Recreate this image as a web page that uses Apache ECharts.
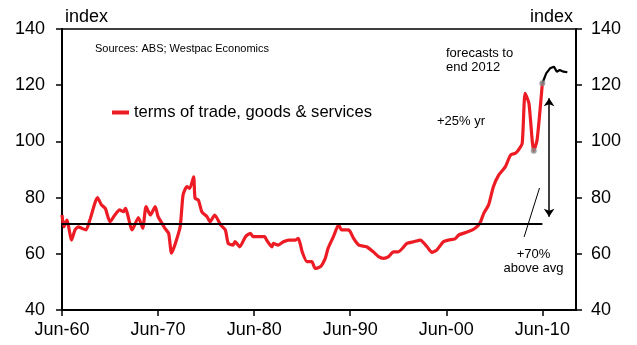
<!DOCTYPE html>
<html>
<head>
<meta charset="utf-8">
<script src="https://cdn.jsdelivr.net/npm/echarts@6/dist/echarts.min.js"></script>
<style>
  html, body { margin: 0; padding: 0; background: #fff; }
  #chart { width: 637px; height: 345px; }
</style>
</head>
<body>
<div id="chart"></div>
<script>
// terms of trade, goods & services (index)
const histYear = [
  1960.5, 1960.7, 1961.0, 1961.5, 1961.85, 1962.2, 1962.55, 1963.0, 1963.4, 1964.2,
  1964.6, 1965.0, 1965.5, 1966.0, 1966.5, 1966.9, 1967.1, 1967.8, 1968.45, 1968.9,
  1969.25, 1969.7, 1970.2, 1970.5, 1970.9, 1971.2, 1971.6, 1971.9, 1972.3, 1972.8,
  1973.1, 1973.5, 1973.8, 1974.2, 1974.35, 1974.7, 1975.05, 1975.6, 1975.9, 1976.4,
  1977.0, 1977.5, 1977.8, 1978.3, 1978.5, 1979.0, 1979.6, 1980.1, 1980.4, 1981.1,
  1981.6, 1981.8, 1982.35, 1982.5, 1983.0, 1983.55, 1984.1, 1984.8, 1985.1, 1985.5,
  1986.0, 1986.5, 1986.85, 1987.4, 1987.9, 1988.2, 1988.75, 1989.3, 1989.6, 1990.3,
  1990.5, 1990.85, 1991.4, 1992.2, 1992.9, 1993.45, 1993.95, 1994.5, 1995.0, 1995.5,
  1996.4, 1997.1, 1997.8, 1998.5, 1999.0, 1999.5, 2000.2, 2000.75, 2001.4, 2001.8,
  2002.8, 2003.5, 2004.0, 2004.4, 2004.9, 2005.4, 2005.95, 2006.65, 2007.2, 2007.7,
  2008.0, 2008.4, 2008.7, 2009.1, 2009.6, 2009.95, 2010.5
];
const histIndex = [
  73.8, 69.6, 72.0, 64.9, 68.5, 69.6, 69.1, 68.5, 72.0, 80.0,
  77.4, 76.2, 71.4, 73.8, 75.6, 75.0, 76.2, 68.5, 72.9, 69.1,
  76.8, 73.8, 76.8, 73.2, 70.9, 69.1, 67.3, 60.2, 63.7, 69.6,
  80.9, 83.9, 83.3, 87.4, 79.8, 79.1, 75.0, 73.2, 71.4, 73.8,
  70.3, 68.5, 63.7, 63.1, 64.3, 62.5, 66.1, 67.3, 66.1, 66.1,
  66.1, 64.9, 62.5, 63.7, 63.1, 64.3, 64.9, 64.9, 65.5, 60.7,
  57.2, 57.2, 54.8, 55.4, 58.4, 62.0, 66.1, 70.3, 68.5, 68.5,
  67.9, 65.5, 63.1, 62.5, 60.7, 59.0, 58.4, 59.0, 60.7, 60.7,
  63.7, 64.3, 64.9, 62.5, 60.5, 61.3, 64.3, 64.9, 65.3, 66.7,
  67.9, 69.1, 70.9, 74.4, 77.4, 83.9, 88.0, 91.0, 95.2, 95.8,
  96.9, 99.3, 117.1, 113.6, 96.7, 100.5, 120.7
];

// forecasts to end 2012
const fcYear = [2010.5, 2010.9, 2011.3, 2011.7, 2012.0, 2012.3, 2012.7, 2013.1];
const fcIndex = [120.7, 124.2, 126.0, 126.6, 124.8, 125.4, 124.8, 124.6];

// long-run average and highlighted points
const avgIndex = 70.6;
const avgSpan = [1960.5, 2010.5];
const dotYear = [2009.6, 2010.5];
const dotIndex = [96.7, 120.7];

// annotation lines
const arrowYear = 2011.2;
const arrowSpan = [73.2, 115.4];
const pointerFrom = [2010.2, 83.4];
const pointerTo = [2008.6, 66.0];

const tickYears = [1960.5, 1970.5, 1980.5, 1990.5, 2000.5, 2010.5];
const tickLabels = ['Jun-60', 'Jun-70', 'Jun-80', 'Jun-90', 'Jun-00', 'Jun-10'];

const seriesName = 'terms of trade, goods & services';
const font = "'Liberation Sans', Arial, sans-serif";

const zip = (xs, ys) => xs.map((x, i) => [x, ys[i]]);

const chart = echarts.init(document.getElementById('chart'));

const yAxisBase = {
  type: 'value',
  min: 40,
  max: 140,
  interval: 20,
  axisLine: { show: true, lineStyle: { color: '#000', width: 2 } },
  axisTick: { show: true, length: 6, lineStyle: { color: '#000', width: 1.5 } },
  splitLine: { show: false },
  axisLabel: { color: '#000', fontSize: 18, fontFamily: font }
};

chart.setOption({
  animation: false,
  grid: {
    left: 62,
    right: 61,
    top: 29,
    bottom: 35,
    show: true,
    borderColor: '#000',
    borderWidth: 1.5,
    outerBoundsMode: 'none'
  },
  legend: {
    data: [{ name: seriesName, icon: 'rect' }],
    left: 112,
    top: 104,
    padding: 0,
    itemWidth: 17,
    itemHeight: 4,
    selectedMode: false,
    textStyle: { fontSize: 16.6, color: '#000', fontFamily: font }
  },
  xAxis: {
    type: 'value',
    min: 1960.5,
    max: 2014,
    axisLine: { lineStyle: { color: '#000', width: 2 } },
    axisTick: {
      show: true,
      customValues: tickYears,
      length: 6,
      lineStyle: { color: '#000', width: 1.5 }
    },
    axisLabel: {
      customValues: tickYears,
      margin: 11,
      color: '#000',
      fontSize: 18,
      fontFamily: font,
      formatter: function (v) {
        const i = tickYears.findIndex(t => Math.abs(t - v) < 0.01);
        return i < 0 ? '' : tickLabels[i];
      }
    },
    splitLine: { show: false }
  },
  yAxis: [
    Object.assign({}, yAxisBase, { position: 'left', axisLabel: Object.assign({}, yAxisBase.axisLabel, { margin: 17 }) }),
    Object.assign({}, yAxisBase, { position: 'right', axisLabel: Object.assign({}, yAxisBase.axisLabel, { margin: 15 }) })
  ],
  series: [
    {
      name: seriesName,
      type: 'line',
      data: zip(histYear, histIndex),
      symbol: 'none',
      smooth: 0.2,
      color: '#ed1c24',
      lineStyle: { color: '#ed1c24', width: 3.2 },
      z: 3
    },
    {
      name: 'forecast',
      type: 'line',
      data: zip(fcYear, fcIndex),
      symbol: 'none',
      color: '#000',
      lineStyle: { color: '#000', width: 2.2 },
      z: 3,
      markLine: {
        silent: true,
        symbol: ['arrow', 'arrow'],
        symbolSize: [8, 8],
        label: { show: false },
        lineStyle: { color: '#000', width: 1.5, type: 'solid' },
        data: [[
          { coord: [arrowYear, arrowSpan[0]] },
          { coord: [arrowYear, arrowSpan[1]] }
        ]]
      }
    },
    {
      name: 'average',
      type: 'line',
      data: zip(avgSpan, [avgIndex, avgIndex]),
      symbol: 'none',
      color: '#000',
      lineStyle: { color: '#000', width: 2 },
      z: 4,
      markLine: {
        silent: true,
        symbol: 'none',
        label: { show: false },
        lineStyle: { color: '#000', width: 1, type: 'solid' },
        data: [[{ coord: pointerFrom }, { coord: pointerTo }]]
      }
    },
    {
      name: 'points',
      type: 'scatter',
      data: zip(dotYear, dotIndex),
      symbol: 'circle',
      symbolSize: 6,
      itemStyle: { color: '#8a8a8a' },
      z: 5
    }
  ],
  graphic: [
    { type: 'text', left: 65, top: 8, style: { text: 'index', fontSize: 18, fontFamily: font, fill: '#000' } },
    { type: 'text', right: 64, top: 8, style: { text: 'index', fontSize: 18, fontFamily: font, fill: '#000' } },
    { type: 'text', left: 95, top: 43, style: { text: 'Sources: ABS; Westpac Economics', fontSize: 11, fontFamily: font, fill: '#000' } },
    { type: 'text', left: 446, top: 46, style: { text: 'forecasts to\nend 2012', fontSize: 13, lineHeight: 14, fontFamily: font, fill: '#000' } },
    { type: 'text', left: 437, top: 115, style: { text: '+25% yr', fontSize: 13, fontFamily: font, fill: '#000' } },
    { type: 'text', x: 533.5, y: 247, style: { text: '+70%\nabove avg', fontSize: 13, lineHeight: 14, fontFamily: font, fill: '#000', align: 'center', verticalAlign: 'top' } }
  ]
});
</script>
</body>
</html>
